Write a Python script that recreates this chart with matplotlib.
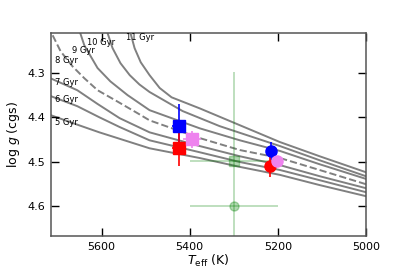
#!/usr/bin/env python3

import matplotlib as mpl
mpl.use('Agg')
from matplotlib import pyplot as plt

# isochrones (Teff in K, log g in cgs)
iso_ages = ['5 Gyr', '6 Gyr', '7 Gyr', '8 Gyr', '9 Gyr', '10 Gyr', '11 Gyr']

teff_5 = [5716, 5657, 5605, 5491, 5377, 5286, 5195, 5105, 5000]
logg_5 = [4.395, 4.416, 4.434, 4.470, 4.492, 4.512, 4.530, 4.553, 4.578]

teff_6 = [5716, 5655, 5605, 5559, 5491, 5377, 5286, 5195, 5105, 5000]
logg_6 = [4.352, 4.375, 4.400, 4.422, 4.452, 4.479, 4.501, 4.519, 4.542, 4.569]

teff_7 = [5716, 5655, 5609, 5559, 5491, 5377, 5286, 5195, 5105, 5000]
logg_7 = [4.312, 4.339, 4.370, 4.402, 4.434, 4.465, 4.488, 4.508, 4.533, 4.560]

teff_8 = [5711, 5693, 5666, 5639, 5609, 5570, 5518, 5491, 5377, 5286, 5195, 5105, 5000]
logg_8 = [4.215, 4.251, 4.285, 4.312, 4.339, 4.361, 4.391, 4.407, 4.447, 4.474, 4.492, 4.519, 4.551]

teff_9 = [5648, 5639, 5609, 5580, 5541, 5491, 5377, 5286, 5195, 5105, 5000]
logg_9 = [4.211, 4.238, 4.289, 4.319, 4.350, 4.384, 4.425, 4.452, 4.476, 4.506, 4.539]

teff_10 = [5586, 5575, 5557, 5536, 5514, 5491, 5416, 5332, 5195, 5105, 5000]
logg_10 = [4.211, 4.244, 4.278, 4.305, 4.326, 4.343, 4.386, 4.420, 4.465, 4.497, 4.533]

teff_11 = [5534, 5525, 5511, 5491, 5468, 5441, 5377, 5286, 5195, 5105, 5000]
logg_11 = [4.211, 4.244, 4.276, 4.305, 4.334, 4.355, 4.380, 4.418, 4.456, 4.488, 4.524]

# stellar parameter estimates
sq_teff = [5425, 5425, 5395]
sq_logg = [4.420, 4.470, 4.450]
sq_teff_err = [15, 15, 20]
sq_logg_err = [0.05, 0.04, 0.02]

ci_teff = [5216, 5217, 5202]
ci_logg = [4.476, 4.510, 4.499]
ci_teff_err = [8, 8, 8]
ci_logg_err = [0.02, 0.025, 0.01]

colors = ['blue', 'red', 'violet']

lit_teff = [5300, 5300]
lit_logg = [4.498, 4.600]
lit_teff_err = [100, 100]
lit_logg_err = [0.2, 0.0]


def main():
    fig = plt.figure(figsize=(4.07, 2.71), dpi=100)
    ax = fig.add_axes([0.125, 0.129, 0.774, 0.749])

    isos = [(teff_5, logg_5), (teff_6, logg_6), (teff_7, logg_7), (teff_8, logg_8),
            (teff_9, logg_9), (teff_10, logg_10), (teff_11, logg_11)]
    for age, (t, g) in zip(iso_ages, isos):
        ls = '--' if age == '8 Gyr' else '-'
        ax.plot(t, g, color='gray', lw=1.4, ls=ls, zorder=1)

    # labels on the isochrones
    label_pos = [(5705, 4.411), (5705, 4.361), (5705, 4.321), (5705, 4.271),
                 (5668, 4.249), (5632, 4.231), (5545, 4.221)]
    for age, (x, y) in zip(iso_ages, label_pos):
        ax.text(x, y, age, fontsize=6, ha='left', va='center', zorder=3)

    # literature values (faint green)
    ax.errorbar(lit_teff[0], lit_logg[0], xerr=lit_teff_err[0], yerr=lit_logg_err[0],
                fmt='s', color='green', ms=6.5, alpha=0.3, lw=1.2, zorder=2)
    ax.errorbar(lit_teff[1], lit_logg[1], xerr=lit_teff_err[1],
                fmt='o', color='green', ms=6.5, alpha=0.3, lw=1.2, zorder=2)

    for i in range(3):
        ax.errorbar(sq_teff[i], sq_logg[i], xerr=sq_teff_err[i], yerr=sq_logg_err[i],
                    fmt='s', color=colors[i], ms=8, lw=1.2, zorder=4)
        ax.errorbar(ci_teff[i], ci_logg[i], xerr=ci_teff_err[i], yerr=ci_logg_err[i],
                    fmt='o', color=colors[i], ms=8, lw=1.2, zorder=4)

    ax.set_xlim(5715, 5000)
    ax.set_ylim(4.668, 4.21)
    ax.set_xticks([5600, 5400, 5200, 5000])
    ax.set_yticks([4.3, 4.4, 4.5, 4.6])
    ax.tick_params(direction='in', top=True, right=True, length=6, width=1,
                   labelsize=8, pad=4)
    for s in ax.spines.values():
        s.set_color('#555555')
        s.set_linewidth(1.1)

    ax.set_xlabel(r'$T_{\rm eff}$ (K)', fontsize=9, labelpad=1)
    ax.set_ylabel(r'log $g$ (cgs)', fontsize=9, labelpad=4)

    fig.savefig('out.png', dpi=100)
    plt.close(fig)


if __name__ == '__main__':
    main()
